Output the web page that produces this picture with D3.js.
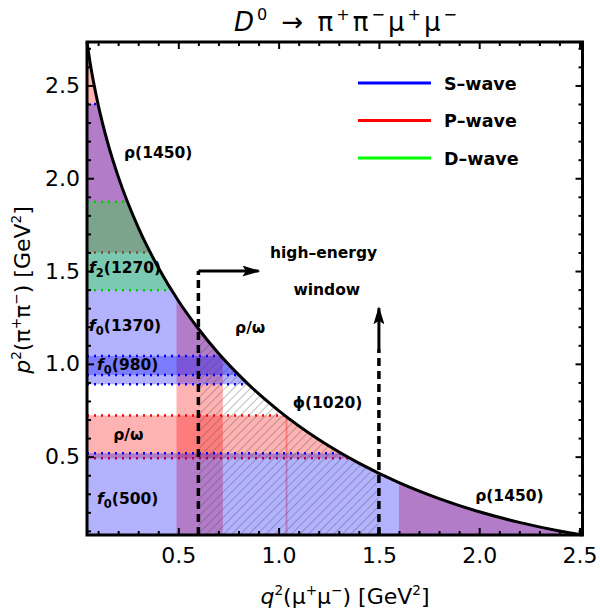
<!DOCTYPE html>
<html>
<head>
<meta charset="utf-8">
<script src="https://cdn.jsdelivr.net/npm/d3@7"></script>
<style>
  body { margin: 0; background: #fff; }
  text { font-family: "DejaVu Sans", sans-serif; }
</style>
</head>
<body>
<div id="chart"></div>
<script>
// Section 1: data
// phase-space limits [GeV^2]
var q2Range = [0.0447, 2.515];
var p2Range = [0.0779, 2.734];

// kinematic boundary (upper edge of the phase space)
var boundaryQ2 = [0.0447, 0.06, 0.08, 0.1, 0.15, 0.2, 0.3, 0.4, 0.5, 0.6, 0.7, 0.8, 0.9, 1.0, 1.2, 1.4, 1.6, 1.8, 2.0, 2.2, 2.4, 2.515];
var boundaryP2 = [2.734, 2.624, 2.503, 2.398, 2.183, 2.01, 1.735, 1.519, 1.34, 1.189, 1.057, 0.942, 0.839, 0.748, 0.592, 0.465, 0.36, 0.274, 0.203, 0.146, 0.0996, 0.0779];

// resonance bands in p^2 (pi pi), [low, high]
var sWaveBands = [[0.0779, 0.518], [0.89, 2.4], [0.94, 1.042]];
var pWaveBands = [[0.491, 0.722], [1.6, 2.77]];
var dWaveBands = [[1.397, 1.874]];

// vector bands in q^2 (mu mu)
var pWaveQ2Bands = [[0.491, 0.722], [1.035, 1.044], [1.6, 2.515]];

// high-energy window
var windowQ2 = [0.6, 1.5];
var windowArrowP2 = 1.5;
var windowArrowQ2 = 0.9;
var upArrowP2 = [1.08, 1.3];

var xTicks = [0.5, 1.0, 1.5, 2.0, 2.5];
var yTicks = [0.5, 1.0, 1.5, 2.0, 2.5];

// region labels: [text, q2, p2]  ("_" marks a subscript)
var regionLabels = [
  ["ρ(1450)", 0.229, 2.107],
  ["f_2(1270)", 0.055, 1.49],
  ["f_0(1370)", 0.055, 1.177],
  ["f_0(980)", 0.095, 0.967],
  ["ρ/ω", 0.175, 0.59],
  ["f_0(500)", 0.095, 0.245],
  ["ρ/ω", 0.783, 1.166],
  ["ϕ(1020)", 1.07, 0.762],
  ["ρ(1450)", 1.98, 0.263],
  ["high–energy", 0.957, 1.568],
  ["window", 1.074, 1.37]
];

var legendNames = ["S–wave", "P–wave", "D–wave"];
var legendColors = ["#0000ff", "#ff0000", "#00ff00"];

// Section 2: setup
var svgWidth = 600;
var svgHeight = 613;

var margin = {
  top: 42,
  right: 17.5,
  bottom: 78,
  left: 87,
};

var width = svgWidth - margin.left - margin.right;
var height = svgHeight - margin.top - margin.bottom;

var svg = d3
  .select("#chart")
  .append("svg")
  .attr("width", svgWidth)
  .attr("height", svgHeight);

var defs = svg.append("defs");

var chartGroup = svg
  .append("g")
  .attr("transform", `translate(${margin.left}, ${margin.top})`);

var xScale = d3.scaleLinear().domain(q2Range).range([0, width]);
var yScale = d3.scaleLinear().domain(p2Range).range([height, 0]);

var boundary = boundaryQ2.map((q, i) => [q, boundaryP2[i]]);

var area = d3
  .area()
  .x((d) => xScale(d[0]))
  .y0(height)
  .y1((d) => yScale(d[1]))
  .curve(d3.curveMonotoneX);

var line = d3
  .line()
  .x((d) => xScale(d[0]))
  .y((d) => yScale(d[1]))
  .curve(d3.curveMonotoneX);

// clip everything to the allowed phase space
defs.append("clipPath").attr("id", "phase").append("path").attr("d", area(boundary));

// hatch pattern for the window
var hatch = defs
  .append("pattern")
  .attr("id", "hatch")
  .attr("patternUnits", "userSpaceOnUse")
  .attr("width", 6)
  .attr("height", 6)
  .attr("patternTransform", "rotate(45)");
hatch
  .append("line")
  .attr("x1", 0)
  .attr("y1", 0)
  .attr("x2", 0)
  .attr("y2", 6)
  .attr("stroke", "rgba(70,70,70,0.5)")
  .attr("stroke-width", 1.4);

defs
  .append("marker")
  .attr("id", "arrow")
  .attr("viewBox", "0 0 10 10")
  .attr("refX", 9)
  .attr("refY", 5)
  .attr("markerWidth", 18)
  .attr("markerHeight", 11)
  .attr("markerUnits", "userSpaceOnUse")
  .attr("preserveAspectRatio", "none")
  .attr("orient", "auto")
  .append("path")
  .attr("d", "M0,0 L10,5 L0,10 L2,5 z")
  .attr("fill", "#000");

// Section 3: bands
var bandsGroup = chartGroup.append("g").attr("clip-path", "url(#phase)");

function drawRowBands(bands, color) {
  bandsGroup
    .selectAll(null)
    .data(bands)
    .enter()
    .append("rect")
    .attr("x", 0)
    .attr("width", width)
    .attr("y", (d) => yScale(d[1]))
    .attr("height", (d) => yScale(d[0]) - yScale(d[1]))
    .attr("fill", color)
    .attr("fill-opacity", 0.3);
}

function drawColBands(bands, color) {
  bandsGroup
    .selectAll(null)
    .data(bands)
    .enter()
    .append("rect")
    .attr("y", 0)
    .attr("height", height)
    .attr("x", (d) => xScale(d[0]))
    .attr("width", (d) => xScale(d[1]) - xScale(d[0]))
    .attr("fill", color)
    .attr("fill-opacity", 0.3);
}

function drawEdges(bands, color) {
  var edges = [];
  bands.forEach(function (b) {
    if (b[0] > p2Range[0]) edges.push(b[0]);
    edges.push(b[1]);
  });
  bandsGroup
    .selectAll(null)
    .data(edges)
    .enter()
    .append("line")
    .attr("x1", 0)
    .attr("x2", width)
    .attr("y1", (d) => yScale(d))
    .attr("y2", (d) => yScale(d))
    .attr("stroke", color)
    .attr("stroke-width", 2.5)
    .attr("stroke-dasharray", "2,5");
}

drawRowBands(pWaveBands, "#ff0000");
drawColBands(pWaveQ2Bands, "#ff0000");
drawEdges(pWaveBands, "#ff0000");

drawRowBands(sWaveBands, "#0000ff");
drawEdges(sWaveBands, "#0000ff");

drawRowBands(dWaveBands, "#00ff00");
drawEdges(dWaveBands, "#00cc00");

// hatched high-energy window
bandsGroup
  .append("rect")
  .attr("x", xScale(windowQ2[0]))
  .attr("width", xScale(windowQ2[1]) - xScale(windowQ2[0]))
  .attr("y", 0)
  .attr("height", height)
  .attr("fill", "url(#hatch)");

// boundary curve
chartGroup
  .append("path")
  .datum(boundary)
  .attr("d", line)
  .attr("fill", "none")
  .attr("stroke", "#000")
  .attr("stroke-width", 3);

// Section 4: axes (inward ticks on all sides)
var minorX = d3.range(0.1, 2.55, 0.1).filter((v) => v > q2Range[0] && Math.abs(v * 2 - Math.round(v * 2)) > 0.01);
var minorY = d3.range(0.1, 2.75, 0.1).filter((v) => v > p2Range[0] && Math.abs(v * 2 - Math.round(v * 2)) > 0.01);

function styleAxis(g, fontSize) {
  g.select(".domain").remove();
  g.selectAll("line").attr("stroke", "#000").attr("stroke-width", 2);
  g.attr("font-family", "DejaVu Sans, sans-serif").attr("font-size", fontSize);
  g.selectAll("text").attr("fill", "#000");
}

var bottomMajor = chartGroup
  .append("g")
  .attr("transform", `translate(0, ${height})`)
  .call(d3.axisBottom(xScale).tickValues(xTicks).tickFormat(d3.format(".1f")).tickSize(-7).tickPadding(12));
styleAxis(bottomMajor, 22);
var bottomMinor = chartGroup
  .append("g")
  .attr("transform", `translate(0, ${height})`)
  .call(d3.axisBottom(xScale).tickValues(minorX).tickFormat("").tickSize(-4));
styleAxis(bottomMinor, 10);

var topMajor = chartGroup
  .append("g")
  .call(d3.axisTop(xScale).tickValues(xTicks).tickFormat("").tickSize(-7));
styleAxis(topMajor, 10);
var topMinor = chartGroup
  .append("g")
  .call(d3.axisTop(xScale).tickValues(minorX).tickFormat("").tickSize(-4));
styleAxis(topMinor, 10);

var leftMajor = chartGroup
  .append("g")
  .call(d3.axisLeft(yScale).tickValues(yTicks).tickFormat(d3.format(".1f")).tickSize(-7).tickPadding(7));
styleAxis(leftMajor, 22);
var leftMinor = chartGroup
  .append("g")
  .call(d3.axisLeft(yScale).tickValues(minorY).tickFormat("").tickSize(-4));
styleAxis(leftMinor, 10);

var rightMajor = chartGroup
  .append("g")
  .attr("transform", `translate(${width}, 0)`)
  .call(d3.axisRight(yScale).tickValues(yTicks).tickFormat("").tickSize(-7));
styleAxis(rightMajor, 10);
var rightMinor = chartGroup
  .append("g")
  .attr("transform", `translate(${width}, 0)`)
  .call(d3.axisRight(yScale).tickValues(minorY).tickFormat("").tickSize(-4));
styleAxis(rightMinor, 10);

// frame
chartGroup
  .append("rect")
  .attr("width", width)
  .attr("height", height)
  .attr("fill", "none")
  .attr("stroke", "#000")
  .attr("stroke-width", 3);

// Section 5: window arrows
chartGroup
  .append("line")
  .attr("x1", xScale(windowQ2[0]))
  .attr("x2", xScale(windowQ2[0]))
  .attr("y1", height)
  .attr("y2", yScale(windowArrowP2))
  .attr("stroke", "#000")
  .attr("stroke-width", 3.5)
  .attr("stroke-dasharray", "8,5");

chartGroup
  .append("line")
  .attr("x1", xScale(windowQ2[0]))
  .attr("x2", xScale(windowArrowQ2))
  .attr("y1", yScale(windowArrowP2))
  .attr("y2", yScale(windowArrowP2))
  .attr("stroke", "#000")
  .attr("stroke-width", 3)
  .attr("marker-end", "url(#arrow)");

chartGroup
  .append("line")
  .attr("x1", xScale(windowQ2[1]))
  .attr("x2", xScale(windowQ2[1]))
  .attr("y1", height)
  .attr("y2", yScale(upArrowP2[0]))
  .attr("stroke", "#000")
  .attr("stroke-width", 3.5)
  .attr("stroke-dasharray", "8,5");

chartGroup
  .append("line")
  .attr("x1", xScale(windowQ2[1]))
  .attr("x2", xScale(windowQ2[1]))
  .attr("y1", yScale(upArrowP2[0]))
  .attr("y2", yScale(upArrowP2[1]))
  .attr("stroke", "#000")
  .attr("stroke-width", 3)
  .attr("marker-end", "url(#arrow)");

// Section 6: labels
regionLabels.forEach(function (d) {
  var t = chartGroup
    .append("text")
    .attr("x", xScale(d[1]))
    .attr("y", yScale(d[2]))
    .attr("font-size", 15.5)
    .attr("font-weight", "bold")
    .attr("fill", "#000");
  if (d[0].indexOf("_") === 1) {
    t.append("tspan").attr("font-style", "italic").text(d[0][0]);
    t.append("tspan").attr("font-size", 11.5).attr("dy", 4).text(d[0][2]);
    t.append("tspan").attr("dy", -4).text(d[0].slice(3));
  } else {
    t.text(d[0]);
  }
});

// rich text helper: parts are [string, style] where style is "", "i", "sup"
function richText(t, parts, size, supScale) {
  var shift = 0;
  parts.forEach(function (p) {
    var ts = t.append("tspan").text(p[0]);
    var target = p[1] === "sup" ? -0.42 * size : 0;
    ts.attr("dy", target - shift);
    shift = target;
    if (p[1] === "sup") ts.attr("font-size", supScale * size);
    if (p[1] === "i") ts.attr("font-style", "italic");
  });
}

// title
var title = svg
  .append("text")
  .attr("x", 347)
  .attr("y", 31)
  .attr("text-anchor", "middle")
  .attr("letter-spacing", 3)
  .attr("font-size", 26);
richText(title, [["D", "i"], ["0", "sup"], [" → π", ""], ["+", "sup"], ["π", ""], ["−", "sup"], ["μ", ""], ["+", "sup"], ["μ", ""], ["−", "sup"]], 26, 0.62);

// x axis label
var xLabel = svg
  .append("text")
  .attr("x", 345)
  .attr("y", 604)
  .attr("text-anchor", "middle")
  .attr("font-size", 22);
richText(xLabel, [["q", "i"], ["2", "sup"], ["(μ", ""], ["+", "sup"], ["μ", ""], ["−", "sup"], [") [GeV", ""], ["2", "sup"], ["]", ""]], 22, 0.62);

// y axis label
var yLabel = svg
  .append("text")
  .attr("transform", "translate(30, 290) rotate(-90)")
  .attr("text-anchor", "middle")
  .attr("font-size", 22);
richText(yLabel, [["p", "i"], ["2", "sup"], ["(π", ""], ["+", "sup"], ["π", ""], ["−", "sup"], [") [GeV", ""], ["2", "sup"], ["]", ""]], 22, 0.62);

// Section 7: legend
var legend = svg.append("g").attr("transform", "translate(358, 83)");
legendNames.forEach(function (name, i) {
  legend
    .append("line")
    .attr("x1", 0)
    .attr("x2", 73)
    .attr("y1", i * 37.5)
    .attr("y2", i * 37.5)
    .attr("stroke", legendColors[i])
    .attr("stroke-width", 3);
  legend
    .append("text")
    .attr("x", 86)
    .attr("y", i * 37.5 + 6.5)
    .attr("font-size", 17.5)
    .attr("font-weight", "bold")
    .text(name);
});
</script>
</body>
</html>
